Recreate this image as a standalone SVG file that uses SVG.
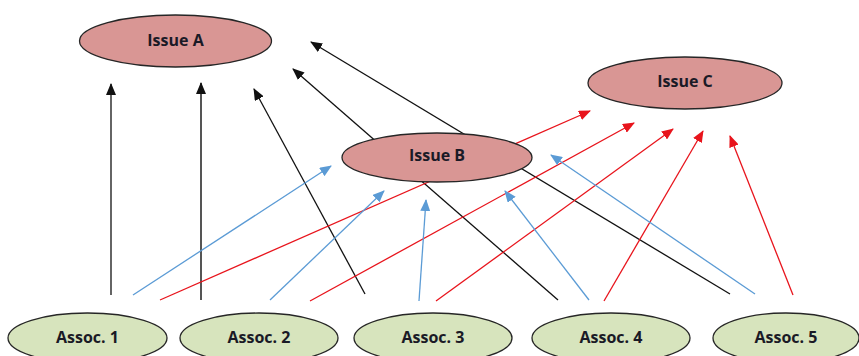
<svg xmlns="http://www.w3.org/2000/svg" width="859" height="356" viewBox="0 0 859 356">
<style>
.issue{fill:#d99694;stroke:#262626;stroke-width:1.3}
.assoc{fill:#d7e4bd;stroke:#262626;stroke-width:1.3}
.lbl{font-family:"Open Sans","Liberation Sans",sans-serif;font-weight:bold;font-size:16px;fill:#1a1a26;text-anchor:middle;dominant-baseline:central}
.k{stroke:#111;stroke-width:1.3;fill:none}
.g{stroke:#555;stroke-width:2;fill:none}
.r{stroke:#e8141c;stroke-width:1.3;fill:none}
.b{stroke:#5b9bd5;stroke-width:1.3;fill:none}
</style>
<defs>
<marker id="ak" markerUnits="userSpaceOnUse" markerWidth="12" markerHeight="10" refX="11" refY="5" orient="auto"><path d="M0,0 L12,5 L0,10 z" fill="#111"/></marker>
<marker id="ar" markerUnits="userSpaceOnUse" markerWidth="12" markerHeight="10" refX="11" refY="5" orient="auto"><path d="M0,0 L12,5 L0,10 z" fill="#e8141c"/></marker>
<marker id="ab" markerUnits="userSpaceOnUse" markerWidth="12" markerHeight="10" refX="11" refY="5" orient="auto"><path d="M0,0 L12,5 L0,10 z" fill="#5b9bd5"/></marker>
</defs>
<g id="connectors">
<line class="k" x1="111" y1="295" x2="111" y2="84" marker-end="url(#ak)"/>
<line class="g" x1="201" y1="300" x2="201" y2="83" marker-end="url(#ak)"/>
<line class="k" x1="365" y1="294" x2="254" y2="89" marker-end="url(#ak)"/>
<line class="k" x1="558" y1="300" x2="293" y2="69" marker-end="url(#ak)"/>
<line class="k" x1="730" y1="294" x2="311" y2="42" marker-end="url(#ak)"/>
<line class="r" x1="160" y1="300" x2="590" y2="111" marker-end="url(#ar)"/>
<line class="r" x1="310" y1="301" x2="634" y2="123" marker-end="url(#ar)"/>
<line class="r" x1="436" y1="301" x2="673" y2="129" marker-end="url(#ar)"/>
<line class="r" x1="604" y1="301" x2="703" y2="131" marker-end="url(#ar)"/>
<line class="r" x1="793" y1="295" x2="730" y2="136" marker-end="url(#ar)"/>
<line class="b" x1="133" y1="295" x2="331" y2="166" marker-end="url(#ab)"/>
<line class="b" x1="270" y1="300" x2="384" y2="191" marker-end="url(#ab)"/>
<line class="b" x1="419" y1="301" x2="426" y2="200" marker-end="url(#ab)"/>
<line class="b" x1="589" y1="300" x2="505" y2="191" marker-end="url(#ab)"/>
<line class="b" x1="755" y1="294" x2="551" y2="155" marker-end="url(#ab)"/>
</g>
<g id="issueA"><ellipse class="issue" cx="175.5" cy="41" rx="96" ry="26"/><text class="lbl" x="175.5" y="40">Issue A</text></g>
<g id="issueB"><ellipse class="issue" cx="437" cy="157.5" rx="95" ry="24.5"/><text class="lbl" x="437" y="155">Issue B</text></g>
<g id="issueC"><ellipse class="issue" cx="685" cy="83" rx="97" ry="26"/><text class="lbl" x="685" y="81">Issue C</text></g>
<g id="assoc1"><ellipse class="assoc" cx="87.5" cy="338" rx="79.5" ry="25"/><text class="lbl" x="87.5" y="337">Assoc. 1</text></g>
<g id="assoc2"><ellipse class="assoc" cx="259" cy="338" rx="79" ry="25"/><text class="lbl" x="259" y="337">Assoc. 2</text></g>
<g id="assoc3"><ellipse class="assoc" cx="433" cy="338" rx="79" ry="25"/><text class="lbl" x="433" y="337">Assoc. 3</text></g>
<g id="assoc4"><ellipse class="assoc" cx="611" cy="338" rx="79" ry="25"/><text class="lbl" x="611" y="337">Assoc. 4</text></g>
<g id="assoc5"><ellipse class="assoc" cx="786" cy="338" rx="73" ry="25"/><text class="lbl" x="786" y="337">Assoc. 5</text></g>
</svg>
